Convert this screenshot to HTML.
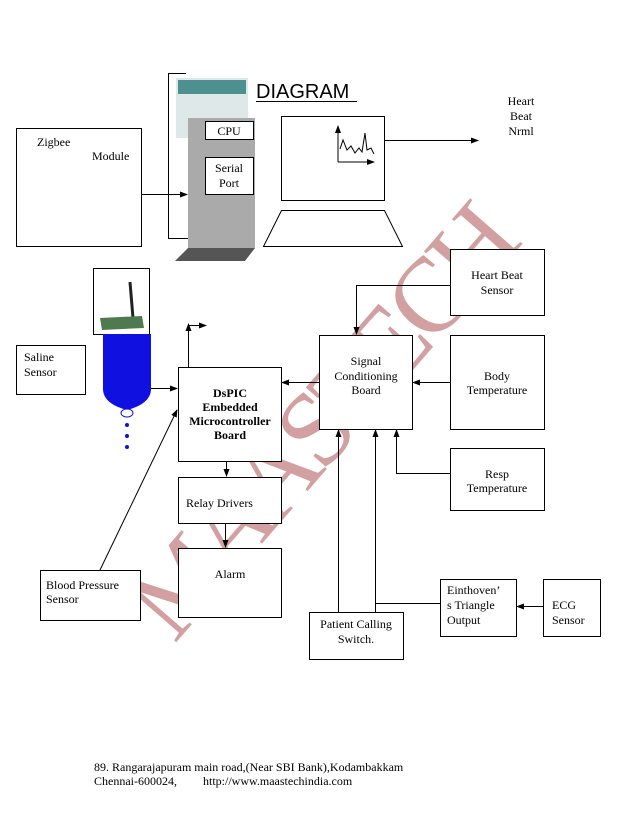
<!DOCTYPE html>
<html><head><meta charset="utf-8"><style>
html,body{margin:0;padding:0;background:#fff;}
svg{display:block;}
text{font-family:"Liberation Serif",serif;font-size:12px;fill:#000;}
</style></head><body>
<svg width="638" height="826" viewBox="0 0 638 826" xmlns="http://www.w3.org/2000/svg">
<defs>
<marker id="a" markerWidth="8" markerHeight="8" refX="7" refY="4" orient="auto" markerUnits="userSpaceOnUse">
<path d="M0,1 L8,4 L0,7 z" fill="#000"/></marker>
</defs>

<!-- watermark -->
<g transform="translate(320,422) rotate(-49)" opacity="0.7">
<text x="0" y="36" text-anchor="middle" style="font-size:106px;fill:#c07878;letter-spacing:-7px;font-family:'Liberation Serif',serif">MAASTECH</text>
</g>

<g fill="#fff" stroke="#000" stroke-width="1">
<rect x="16.5" y="128.5" width="125" height="118"/>
<rect x="281.5" y="116.5" width="103" height="84"/>
<rect x="450.5" y="249.5" width="94" height="66"/>
<rect x="16.5" y="345.5" width="69" height="49"/>
<rect x="178.5" y="367.5" width="103" height="94"/>
<rect x="319.5" y="335.5" width="93" height="94"/>
<rect x="450.5" y="335.5" width="94" height="94"/>
<rect x="450.5" y="448.5" width="94" height="62"/>
<rect x="178.5" y="477.5" width="103" height="46"/>
<rect x="178.5" y="548.5" width="103" height="69"/>
<rect x="40.5" y="570.5" width="100" height="50"/>
<rect x="309.5" y="612.5" width="94" height="47"/>
<rect x="440.5" y="579.5" width="76" height="57"/>
<rect x="543.5" y="579.5" width="57" height="57"/>
</g>
<g fill="none" stroke="#000">
<polyline points="186,73.5 168.5,73.5 168.5,238.5 188,238.5"/>
<polygon points="263.5,246.5 281.5,210.5 384.5,210.5 402.5,246.5" fill="#fff"/>
</g>

<!-- computer tower -->
<rect x="176" y="78" width="72" height="60" fill="#dfe8e8"/>
<rect x="178" y="80" width="68" height="14" fill="#4e8f8f"/>
<rect x="188" y="118" width="67" height="130" fill="#aaa"/>
<polygon points="175,261 188,248 255,248 245,261" fill="#555"/>
<rect x="205.5" y="121.5" width="48" height="18" fill="#fff" stroke="#000"/>
<rect x="205.5" y="157.5" width="48" height="37" fill="#fff" stroke="#000"/>
<text x="229" y="135" text-anchor="middle">CPU</text>
<text x="229" y="172" text-anchor="middle">Serial</text>
<text x="229" y="187" text-anchor="middle">Port</text>

<!-- graph in monitor -->
<g stroke="#000" fill="none">
<line x1="338" y1="162" x2="338" y2="126" marker-end="url(#a)"/>
<line x1="338" y1="162" x2="374" y2="162" marker-end="url(#a)"/>
<polyline points="340,149 343,140 347,150 351,146 355,153 359,148 362,152 365,133 367,150 371,148 374,154"/>
</g>

<!-- antenna image and bottle -->
<rect x="93.5" y="268.5" width="56" height="66" fill="#fff" stroke="#000"/>
<line x1="130" y1="282" x2="133" y2="318" stroke="#222" stroke-width="3"/>
<polygon points="100,318 142,316 144,328 102,330" fill="#4f7a4f"/>
<path d="M103,334 L151,334 L151,390 Q150,404 127,410 Q104,404 103,390 Z" fill="#1010e0"/>
<ellipse cx="127" cy="413" rx="6" ry="4" fill="#fff" stroke="#1010e0"/>
<circle cx="127" cy="425" r="2" fill="#1010e0"/>
<circle cx="127" cy="436" r="2" fill="#1010e0"/>
<circle cx="127" cy="447" r="2" fill="#1010e0"/>

<!-- connectors -->
<g stroke="#000" fill="none">
<line x1="141" y1="194.5" x2="187" y2="194.5" marker-end="url(#a)"/>
<line x1="384" y1="140.5" x2="478" y2="140.5" marker-end="url(#a)"/>
<polyline points="450,285.5 356.5,285.5 356.5,334" marker-end="url(#a)"/>
<line x1="450" y1="382.5" x2="413" y2="382.5" marker-end="url(#a)"/>
<line x1="319" y1="382.5" x2="282" y2="382.5" marker-end="url(#a)"/>
<line x1="151" y1="388.5" x2="177" y2="388.5" marker-end="url(#a)"/>
<polyline points="188.5,325.5 206,325.5" marker-end="url(#a)"/>
<line x1="188.5" y1="367" x2="188.5" y2="324" marker-end="url(#a)"/>
<line x1="100" y1="570" x2="177" y2="410" marker-end="url(#a)"/>
<line x1="226.5" y1="461" x2="226.5" y2="476" marker-end="url(#a)"/>
<line x1="225.5" y1="523" x2="225.5" y2="547" marker-end="url(#a)"/>
<line x1="338.5" y1="612" x2="338.5" y2="430" marker-end="url(#a)"/>
<line x1="375.5" y1="612" x2="375.5" y2="430" marker-end="url(#a)"/>
<line x1="375.5" y1="603.5" x2="440" y2="603.5"/>
<polyline points="450,473.5 396.5,473.5 396.5,430" marker-end="url(#a)"/>
<line x1="543" y1="606.5" x2="517" y2="606.5" marker-end="url(#a)"/>
</g>

<!-- labels -->
<text x="256" y="98" style="font-family:'Liberation Sans',sans-serif;font-size:20px">DIAGRAM</text>
<line x1="256" y1="101.5" x2="357" y2="101.5" stroke="#000"/>
<text x="37" y="146">Zigbee</text>
<text x="92" y="160">Module</text>
<text x="521" y="105" text-anchor="middle">Heart</text>
<text x="521" y="120" text-anchor="middle">Beat</text>
<text x="521" y="135" text-anchor="middle">Nrml</text>
<text x="497" y="279" text-anchor="middle">Heart Beat</text>
<text x="497" y="294" text-anchor="middle">Sensor</text>
<text x="24" y="361">Saline</text>
<text x="24" y="376">Sensor</text>
<text x="230" y="397" text-anchor="middle" font-weight="bold">DsPIC</text>
<text x="230" y="411" text-anchor="middle" font-weight="bold">Embedded</text>
<text x="230" y="425" text-anchor="middle" font-weight="bold">Microcontroller</text>
<text x="230" y="439" text-anchor="middle" font-weight="bold">Board</text>
<text x="366" y="365" text-anchor="middle">Signal</text>
<text x="366" y="380" text-anchor="middle">Conditioning</text>
<text x="366" y="394" text-anchor="middle">Board</text>
<text x="497" y="380" text-anchor="middle">Body</text>
<text x="497" y="394" text-anchor="middle">Temperature</text>
<text x="497" y="478" text-anchor="middle">Resp</text>
<text x="497" y="492" text-anchor="middle">Temperature</text>
<text x="186" y="507">Relay Drivers</text>
<text x="230" y="578" text-anchor="middle">Alarm</text>
<text x="46" y="589">Blood Pressure</text>
<text x="46" y="603">Sensor</text>
<text x="356" y="628" text-anchor="middle">Patient Calling</text>
<text x="356" y="643" text-anchor="middle">Switch.</text>
<text x="447" y="594">Einthoven’</text>
<text x="447" y="609">s Triangle</text>
<text x="447" y="624">Output</text>
<text x="552" y="609">ECG</text>
<text x="552" y="624">Sensor</text>
<text x="94" y="771">89. Rangarajapuram main road,(Near SBI Bank),Kodambakkam</text>
<text x="94" y="785">Chennai-600024,</text>
<text x="203" y="785">http://www.maastechindia.com</text>
</svg>
</body></html>
